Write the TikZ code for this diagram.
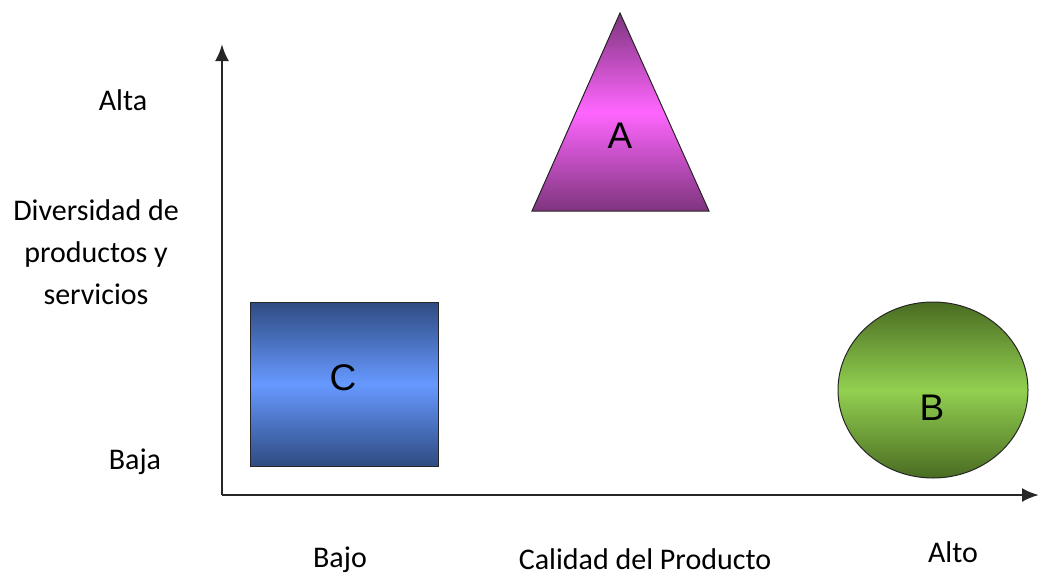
\documentclass[tikz,border=0pt]{standalone}
\usepackage{fontspec}
\setmainfont{Carlito}
\newfontfamily\arialfont{Liberation Sans}
\usepackage{tikz}
\usetikzlibrary{calc,positioning,arrows,arrows.meta,shapes}

\definecolor{purpdark}{HTML}{7E347E}
\definecolor{purplight}{HTML}{FF66FF}
\definecolor{bluedark}{HTML}{2F4B82}
\definecolor{bluelight}{HTML}{6699FF}
\definecolor{greendark}{HTML}{4A6C22}
\definecolor{greenlight}{HTML}{92D050}

\begin{document}
\begin{tikzpicture}[x=1pt,y=-1pt,
  lbl/.style={font=\fontsize{30}{42}\selectfont,align=center,inner sep=0pt},
  let/.style={font=\arialfont\fontsize{37}{37}\selectfont,inner sep=0pt},
  fig/.style={draw=black!85,line width=1pt},
  axis/.style={-{Latex[length=17pt,width=14pt]},line width=2.6pt,black!85}]
              \useasboundingbox (0,0) rectangle (1041,576);

              % ejes
              \coordinate (o) at (222,495);
              \coordinate (ytop) at (222,44);
              \coordinate (xend) at (1039,495);
              \draw[axis] (o) -- (ytop);
              \draw[axis] (o) -- (xend);

              % figuras
              \draw[fig,top color=purpdark,bottom color=purpdark,middle color=purplight] (620,13) -- (709,211) -- (532,211) -- cycle;
              \draw[fig,top color=bluedark,bottom color=bluedark,middle color=bluelight] (250,302) rectangle (438,466);
              \draw[fig,top color=greendark,bottom color=greendark,middle color=greenlight] (933,390) ellipse [x radius=95,y radius=88];

              \node[let] (a) at (620,136) {A};
              \node[let] (c) at (343,378) {C};
              \node[let] (b) at (932,408) {B};

              % textos
              \node[lbl] (alta) at (123,100) {Alta};
              \node[lbl] (div) at (96,252) {Diversidad de\\productos y\\servicios};
              \node[lbl] (baja) at (135,462) {Baja};
              \node[lbl] (bajo) at (340,560) {Bajo};
              \node[lbl] (cal) at (645,559) {Calidad del Producto};
              \node[lbl] (alto) at (953,552) {Alto};
            \end{tikzpicture}
\end{document}
